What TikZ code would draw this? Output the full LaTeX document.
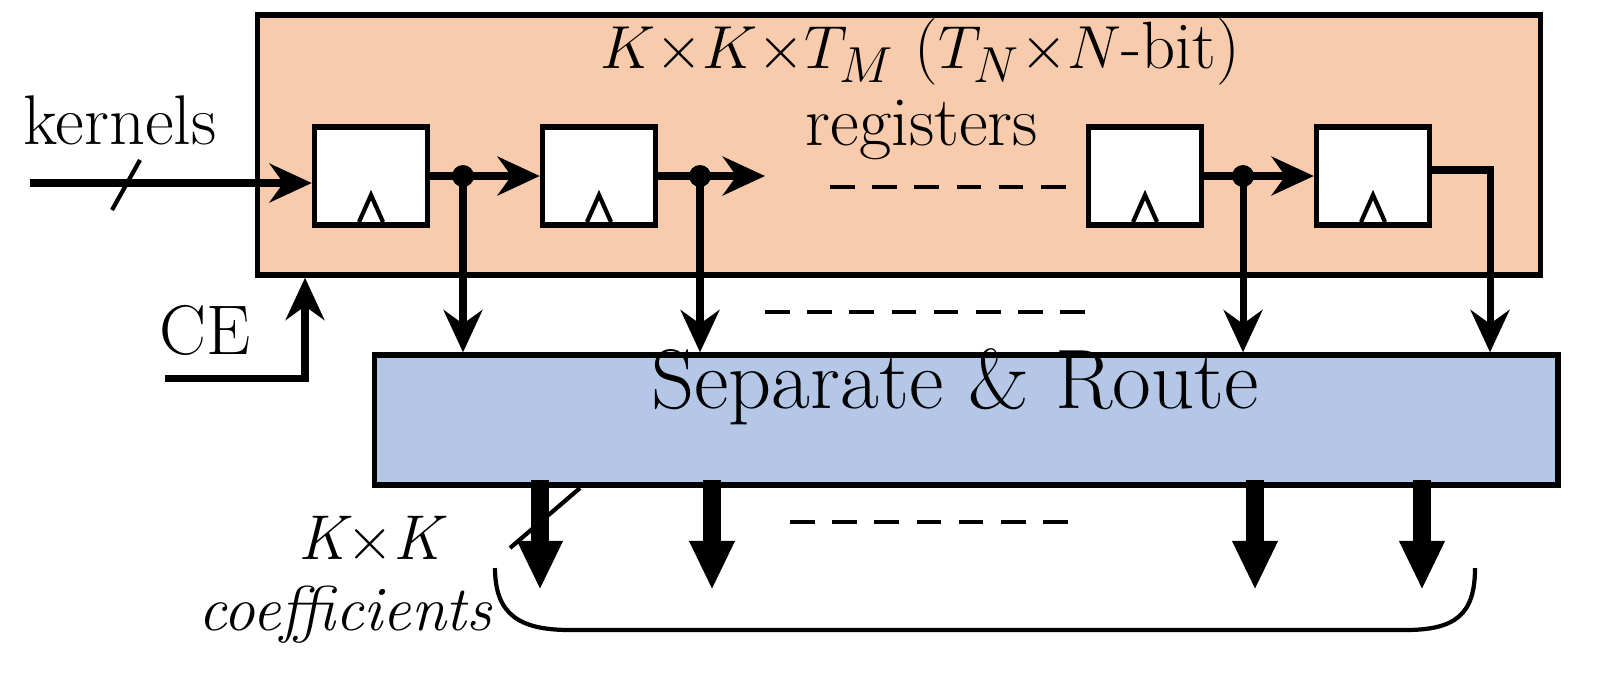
\documentclass[tikz,border=0pt]{standalone}
\usetikzlibrary{arrows.meta}
\begin{document}
\begin{tikzpicture}[x=0.01cm,y=-0.01cm,
 reg/.style={draw,line width=1.5pt,fill=white,minimum width=1.13cm,minimum height=0.98cm,inner sep=0pt},
 ar/.style={line width=2pt,-{Stealth[length=12pt,width=11pt]}},
 tar/.style={line width=5pt,-{Triangle[length=14pt,width=12pt]}},
 dsh/.style={line width=1.2pt,dash pattern=on 7pt off 5pt},
 txt/.style={font=\fontsize{20}{22}\selectfont,inner sep=0pt}]
\useasboundingbox (0,0) rectangle (1598,684);
\node[draw,line width=1.5pt,fill={rgb,255:red,248;green,203;blue,173},minimum width=12.82cm,minimum height=2.6cm,inner sep=0pt] (orange) at (899,145) {};
\node[draw,line width=1.5pt,fill={rgb,255:red,180;green,199;blue,231},minimum width=11.83cm,minimum height=1.3cm,inner sep=0pt] (blue) at (966,420) {};
\node[font=\fontsize{24}{26}\selectfont,inner sep=0pt] (sr) at (955,387) {Separate \& Route};
\node[txt,font=\fontsize{19}{21}\selectfont] (title) at (920,52) {$K{\times}K{\times}T_M$ ($T_N{\times}N$-bit)};
\node[txt] (regs) at (922,130) {registers};
\foreach \n/\x in {r1/371,r2/599,r3/1145,r4/1373}{
 \node[reg] (\n) at (\x,176) {};
 \draw[line width=1.2pt] (\x-12,222) -- (\x,195) -- (\x+12,222);}
\node[txt] (kern) at (120,120) {kernels};
\coordinate (kin) at (30,183);
\draw[ar] (kin) -- (r1.west|-kin);
\draw[line width=1.2pt] (112,210) -- (140,160);
\coordinate (d1) at (463,176); \coordinate (d2) at (700,176); \coordinate (d3) at (1243,176);
\foreach \d in {d1,d2,d3} \fill (\d) circle (11);
\draw[ar] (r1.east) -- (r2.west);
\coordinate (e2) at (765,176);
\draw[ar] (r2.east) -- (e2);
\draw[dsh] (830,187) -- (1070,187);
\draw[ar] (r3.east) -- (r4.west);
\foreach \d in {d1,d2,d3} \draw[ar] (\d) -- (\d|-blue.north);
\coordinate (o4) at (1490,170);
\draw[ar] (r4.east|-o4) -- (o4) -- (o4|-blue.north);
\draw[dsh] (765,312) -- (1090,312);
\node[txt] (ce) at (205,330) {CE};
\coordinate (ce0) at (165,378); \coordinate (ce1) at (305,378);
\draw[ar] (ce0) -- (ce1) -- (ce1|-orange.south);
\foreach \x in {540,712,1255,1422}{
 \coordinate (b\x) at (\x,590);
 \draw[tar] (\x,480) -- (b\x);}
\draw[line width=1.2pt] (510,548) -- (580,488);
\draw[dsh] (790,522) -- (1075,522);
\node[txt,font=\fontsize{18}{20}\selectfont\itshape] (kk) at (370,540) {K$\times$K};
\node[txt,font=\fontsize{18}{20}\selectfont\itshape] (coef) at (345,615) {coefficients};
\draw[line width=1.2pt] (495,568) .. controls (495,615) and (520,630) .. (570,630) -- (1405,630) .. controls (1455,630) and (1475,615) .. (1475,568);
\end{tikzpicture}
\end{document}
